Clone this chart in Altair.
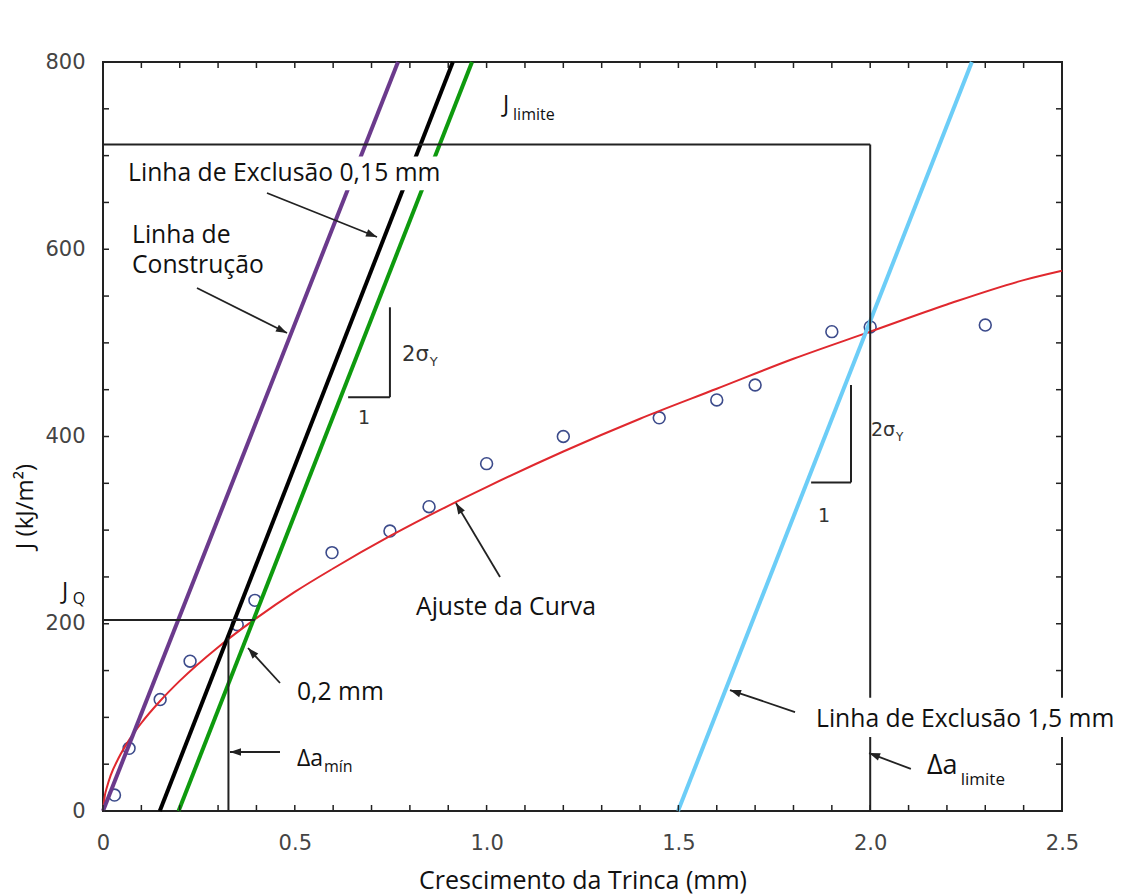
import math
import altair as alt
import pandas as pd

# ---------------- data ----------------
# measured points (open circles)
pt_x = [0.03, 0.068, 0.149, 0.227, 0.35, 0.396, 0.597, 0.748, 0.85, 1.0, 1.2, 1.45, 1.6, 1.7, 1.9, 2.0, 2.3]
pt_j = [17, 67, 119, 160, 199, 225, 276, 299, 325, 371, 400, 420, 439, 455, 512, 517, 519]

# fitted curve
fit_x = [0.0, 0.005, 0.01, 0.02, 0.04, 0.07, 0.1, 0.15, 0.2, 0.3, 0.4, 0.5, 0.6, 0.75, 0.9,
         1.0, 1.2, 1.4, 1.6, 1.8, 2.0, 2.2, 2.4, 2.5]
fit_j = [0, 17, 25, 38, 56, 77, 94, 118, 139, 175, 206, 234, 259, 294, 326,
         346, 384, 419, 451, 483, 512, 541, 567, 577]

# straight construction / exclusion lines (start at J=0, end at J=800)
line_names = ["Linha de Construção", "Exclusão 0,15 mm", "Exclusão 0,2 mm", "Exclusão 1,5 mm"]
line_x0 = [0.0, 0.148, 0.197, 1.499]
line_x1 = [0.769, 0.912, 0.962, 2.265]
line_j0 = [0, 0, 0, 0]
line_j1 = [800, 800, 800, 800]
line_colors = ["#6B3A8C", "#000000", "#0E9A0E", "#6CCDF7"]

# black reference segments (J_limite, Δa_limite, J_Q, Δa_mín, slope triangles)
seg_x = [0.0, 2.0, 0.0, 0.327, 0.748, 0.639, 1.95, 1.846]
seg_x2 = [2.0, 2.0, 0.396, 0.327, 0.748, 0.748, 1.95, 1.95]
seg_y = [712, 712, 204, 185, 538, 442, 455, 351]
seg_y2 = [712, 0, 204, 0, 442, 442, 351, 351]

# axis ticks
x_ticks = [i / 10 for i in range(26)]
y_ticks = [i * 50 for i in range(17)]
x_labels = [0, 0.5, 1.0, 1.5, 2.0, 2.5]
y_labels = [0, 200, 400, 600, 800]

W, H = 959, 749
FONT = "Open Sans"

# ---------------- frames ----------------
pts_df = pd.DataFrame({"x": pt_x, "y": pt_j})
fit_df = pd.DataFrame({"x": fit_x, "y": fit_j})
lines_df = pd.DataFrame({"name": line_names, "x": line_x0, "x2": line_x1,
                         "y": line_j0, "y2": line_j1})
seg_df = pd.DataFrame({"x": seg_x, "x2": seg_x2, "y": seg_y, "y2": seg_y2})

mask_df = pd.DataFrame({"x": [0.057, 1.848], "x2": [0.892, 2.65],
                        "y": [663, 79], "y2": [699, 121]})

main_txt = pd.DataFrame([
    ("J", 1.0428, 754, 23), ("limite", 1.069, 743, 16),
    ("Linha de Exclusão 0,15 mm", 0.0652, 680.4, 24.7),
    ("Linha de", 0.0756, 614.2, 24.7), ("Construção", 0.0756, 582.1, 24.7),
    ("Ajuste da Curva", 0.816, 216.8, 24.7),
    ("0,2 mm", 0.5057, 126, 24.7),
    ("Δa", 0.5057, 55.5, 23), ("mín", 0.576, 47, 16),
    ("Linha de Exclusão 1,5 mm", 1.8587, 97.2, 24.7),
    ("Δa", 2.148, 48.1, 27), ("limite", 2.236, 33.1, 17),
    ("J", -0.107, 233.9, 23), ("Q", -0.079, 226.4, 16),
], columns=["t", "x", "y", "s"])

dv_txt = pd.DataFrame([
    ("2σ", 0.7795, 487, 21), ("Y", 0.852, 479.6, 13),
    ("1", 0.665, 419.8, 19),
    ("2σ", 2.002, 406.9, 19), ("Y", 2.067, 399.5, 12),
    ("1", 1.864, 315.1, 19),
], columns=["t", "x", "y", "s"])

arr = pd.DataFrame([
    (0.4275, 660.1, 0.7143, 613.1),
    (0.245, 558.6, 0.4797, 510.5),
    (1.035, 249.9, 0.920, 329.0),
    (0.4614, 136.7, 0.378, 174.1),
    (0.4614, 63.0, 0.331, 63.0),
    (1.804, 105.7, 1.6345, 129.2),
    (2.106, 44.9, 1.997, 61.9),
], columns=["x", "y", "x2", "y2"])
sx, sy = W / 2.5, H / 800
arr["angle"] = [
    math.degrees(math.atan2((r.x2 - r.x) * sx, (r.y2 - r.y) * sy)) % 360
    for r in arr.itertuples()
]

xs = alt.Scale(domain=[0, 2.5], nice=False, zero=False)
ys = alt.Scale(domain=[0, 800], nice=False, zero=False)

x_axis = alt.Axis(values=x_labels,
                  labelExpr="datum.value == 0 ? '0' : format(datum.value, '.1f')",
                  domain=False, ticks=False, grid=False, labelFlush=False,
                  labelFont="DejaVu Sans", labelFontSize=21, labelColor="#444", labelPadding=21,
                  title="Crescimento da Trinca (mm)", titleFont=FONT, titleFontSize=25,
                  titleFontWeight="normal", titleColor="#111", titleY=69, titleBaseline="middle")
y_axis = alt.Axis(values=y_labels, format="d", domain=False, ticks=False, grid=False,
                  labelFlush=False, labelFont="DejaVu Sans", labelFontSize=21, labelColor="#444",
                  labelPadding=18, title="J (kJ/m²)", titleFont=FONT, titleFontSize=24,
                  titleFontWeight="normal", titleColor="#111", titleX=-78, titleY=444,
                  titleAngle=270, titleAlign="center", titleBaseline="middle")

# every layer carries the same axis definition so that they merge cleanly
NX = alt.X("x:Q", scale=xs, axis=x_axis)
NY = alt.Y("y:Q", scale=ys, axis=y_axis)

points = alt.Chart(pts_df).mark_point(shape="circle", filled=False, size=140,
                                      strokeWidth=1.6, color="#3C4B8B", opacity=1).encode(
    x=NX, y=NY)

curve = alt.Chart(fit_df).mark_line(color="#E0282E", strokeWidth=2, interpolate="monotone").encode(
    x=NX, y=NY)

lines = alt.Chart(lines_df).mark_rule(strokeWidth=4).encode(
    x=NX, y=NY, x2="x2:Q", y2="y2:Q",
    color=alt.Color("name:N", scale=alt.Scale(domain=line_names, range=line_colors), legend=None),
)

segs = alt.Chart(seg_df).mark_rule(color="#222", strokeWidth=2).encode(
    x=NX, y=NY, x2="x2:Q", y2="y2:Q")

tk = dict(color="#222", strokeWidth=1.5)
xt_df = pd.DataFrame({"x": x_ticks})
yt_df = pd.DataFrame({"y": y_ticks})
ticks_b = alt.Chart(xt_df).mark_rule(**tk).encode(x=NX, y=alt.value(H), y2=alt.value(H - 6))
ticks_t = alt.Chart(xt_df).mark_rule(**tk).encode(x=NX, y=alt.value(0), y2=alt.value(6))
ticks_l = alt.Chart(yt_df).mark_rule(**tk).encode(y=NY, x=alt.value(0), x2=alt.value(6))
ticks_r = alt.Chart(yt_df).mark_rule(**tk).encode(y=NY, x=alt.value(W), x2=alt.value(W - 6))

masks = alt.Chart(mask_df).mark_rect(color="white", opacity=1).encode(
    x=NX, y=NY, x2="x2:Q", y2="y2:Q")

txt_main = alt.Chart(main_txt).mark_text(align="left", baseline="middle", font=FONT,
                                         color="#111").encode(
    x=NX, y=NY, text="t:N", size=alt.Size("s:Q", scale=None, legend=None))
txt_dv = alt.Chart(dv_txt).mark_text(align="left", baseline="middle", font="DejaVu Sans",
                                     color="#333").encode(
    x=NX, y=NY, text="t:N", size=alt.Size("s:Q", scale=None, legend=None))

arrow_lines = alt.Chart(arr).mark_rule(color="#222", strokeWidth=1.8).encode(
    x=NX, y=NY, x2="x2:Q", y2="y2:Q")
arrow_heads = alt.Chart(arr).mark_point(shape="M0,0L-0.7,2L0.7,2Z", filled=True, size=121,
                                        color="#222", opacity=1).encode(
    x=alt.X("x2:Q", scale=xs, axis=x_axis), y=alt.Y("y2:Q", scale=ys, axis=y_axis),
    angle=alt.Angle("angle:Q", scale=None))

chart = alt.layer(
    points, curve, lines, segs, ticks_b, ticks_t, ticks_l, ticks_r,
    masks, txt_main, txt_dv, arrow_lines, arrow_heads,
).properties(
    width=W, height=H,
    autosize=alt.AutoSizeParams(type="none"),
    padding={"left": 95, "top": 54, "right": 52, "bottom": 85},
).configure_view(stroke="#222", strokeWidth=2)

chart.save("out.html", embed_options={"renderer": "svg", "actions": False})
